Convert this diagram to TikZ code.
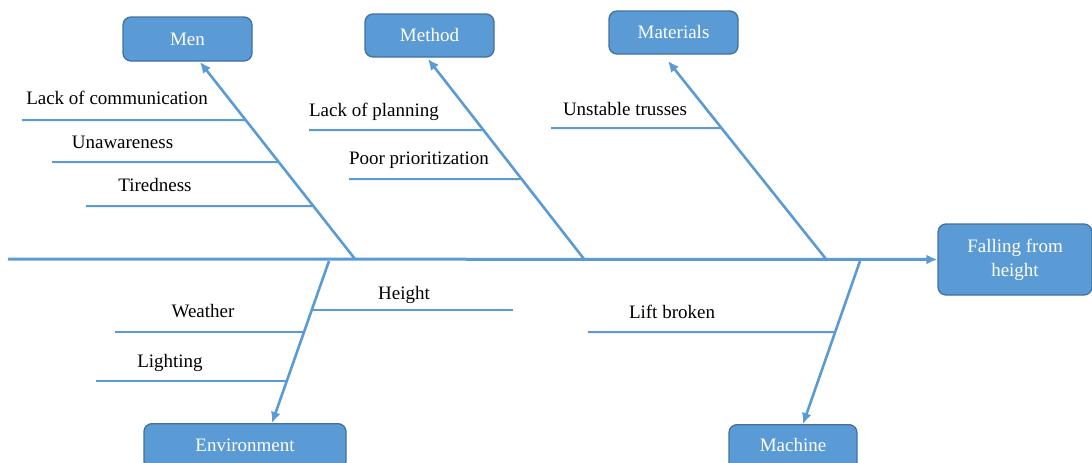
\documentclass[tikz,border=0pt]{standalone}
\usepackage{fontspec}
\setmainfont{Liberation Serif}
\usetikzlibrary{arrows.meta}
\definecolor{boneblue}{HTML}{5B9BD5}
\definecolor{boxedge}{HTML}{41719C}
\begin{document}
\begin{tikzpicture}[x=1pt,y=-1pt,
  cat/.style={draw=boxedge,line width=1.3pt,fill=boneblue,rounded corners=8pt,
    text=white,font=\fontsize{19}{24}\selectfont,inner sep=0pt},
  bone/.style={draw=boneblue,line width=2.6pt,-{Latex[length=11pt,width=10pt]}},
  rib/.style={draw=boneblue,line width=2pt},
  cause/.style={font=\fontsize{19}{24}\selectfont,text=black,inner sep=0pt,
    anchor=base}]
\useasboundingbox (0,0) rectangle (1092,463);

% effect and category boxes
\node[cat,minimum width=154pt,minimum height=71pt,align=center] (effect) at (1015,259.5)
  {Falling from\\height};
\node[cat,minimum width=129pt,minimum height=44pt] (men) at (187.5,39) {Men};
\node[cat,minimum width=129pt,minimum height=43pt] (method) at (429.5,35.5) {Method};
\node[cat,minimum width=129pt,minimum height=43pt] (materials) at (673.5,32.5) {Materials};
% the two lower boxes run off the bottom edge; their labels sit at their visible middle
\node[cat,minimum width=202pt,minimum height=46pt,anchor=north] (environment) at (245,423) {};
\node[cat,minimum width=128pt,minimum height=46pt,anchor=north] (machine) at (793,424) {};
\node[cat,draw=none,fill=none] (envlabel) at (245,445) {Environment};
\node[cat,draw=none,fill=none] (machlabel) at (793,445) {Machine};

% spine
\coordinate (tail) at (8,259);
\draw[bone,line width=3pt] (tail) -- (effect.west);

% main bones
\coordinate (menroot) at (355,259);
\coordinate (methodroot) at (584,259);
\coordinate (materialsroot) at (826,259);
\coordinate (envroot) at (329,261);
\coordinate (machroot) at (860,261);
\coordinate (mentip) at (200,62);
\coordinate (methodtip) at (428,59);
\coordinate (materialstip) at (668,61);
\coordinate (envtip) at (272,423);
\coordinate (machtip) at (803,424);
\draw[bone] (menroot) -- (mentip);
\draw[bone] (methodroot) -- (methodtip);
\draw[bone] (materialsroot) -- (materialstip);
\draw[bone] (envroot) -- (envtip);
\draw[bone] (machroot) -- (machtip);

% causes: label (placed by its baseline) above a rib that meets its bone
\node[cause] (c1) at (117,104) {Lack of communication};
\coordinate (r1) at (22,120);
\draw[rib] (r1) -- (intersection of r1--{243,120} and menroot--mentip);
\node[cause] (c2) at (122.5,148) {Unawareness};
\coordinate (r2) at (52,162);
\draw[rib] (r2) -- (intersection of r2--{276,162} and menroot--mentip);
\node[cause] (c3) at (155,191) {Tiredness};
\coordinate (r3) at (86,206);
\draw[rib] (r3) -- (intersection of r3--{311,206} and menroot--mentip);

\node[cause] (c4) at (374,116) {Lack of planning};
\coordinate (r4) at (309,130);
\draw[rib] (r4) -- (intersection of r4--{478,130} and methodroot--methodtip);
\node[cause] (c5) at (419,164) {Poor prioritization};
\coordinate (r5) at (349,179);
\draw[rib] (r5) -- (intersection of r5--{517,179} and methodroot--methodtip);

\node[cause] (c6) at (625,115) {Unstable trusses};
\coordinate (r6) at (551,128);
\draw[rib] (r6) -- (intersection of r6--{720,128} and materialsroot--materialstip);

\node[cause] (c7) at (404,299) {Height};
\coordinate (r7) at (513,310);
\draw[rib] (r7) -- (intersection of r7--{313,310} and envroot--envtip);
\node[cause] (c8) at (203,317) {Weather};
\coordinate (r8) at (115,332);
\draw[rib] (r8) -- (intersection of r8--{303,332} and envroot--envtip);
\node[cause] (c9) at (170,367) {Lighting};
\coordinate (r9) at (96,381);
\draw[rib] (r9) -- (intersection of r9--{285,381} and envroot--envtip);

\node[cause] (c10) at (672,318) {Lift broken};
\coordinate (r10) at (588,332);
\draw[rib] (r10) -- (intersection of r10--{833,332} and machroot--machtip);
\end{tikzpicture}
\end{document}
